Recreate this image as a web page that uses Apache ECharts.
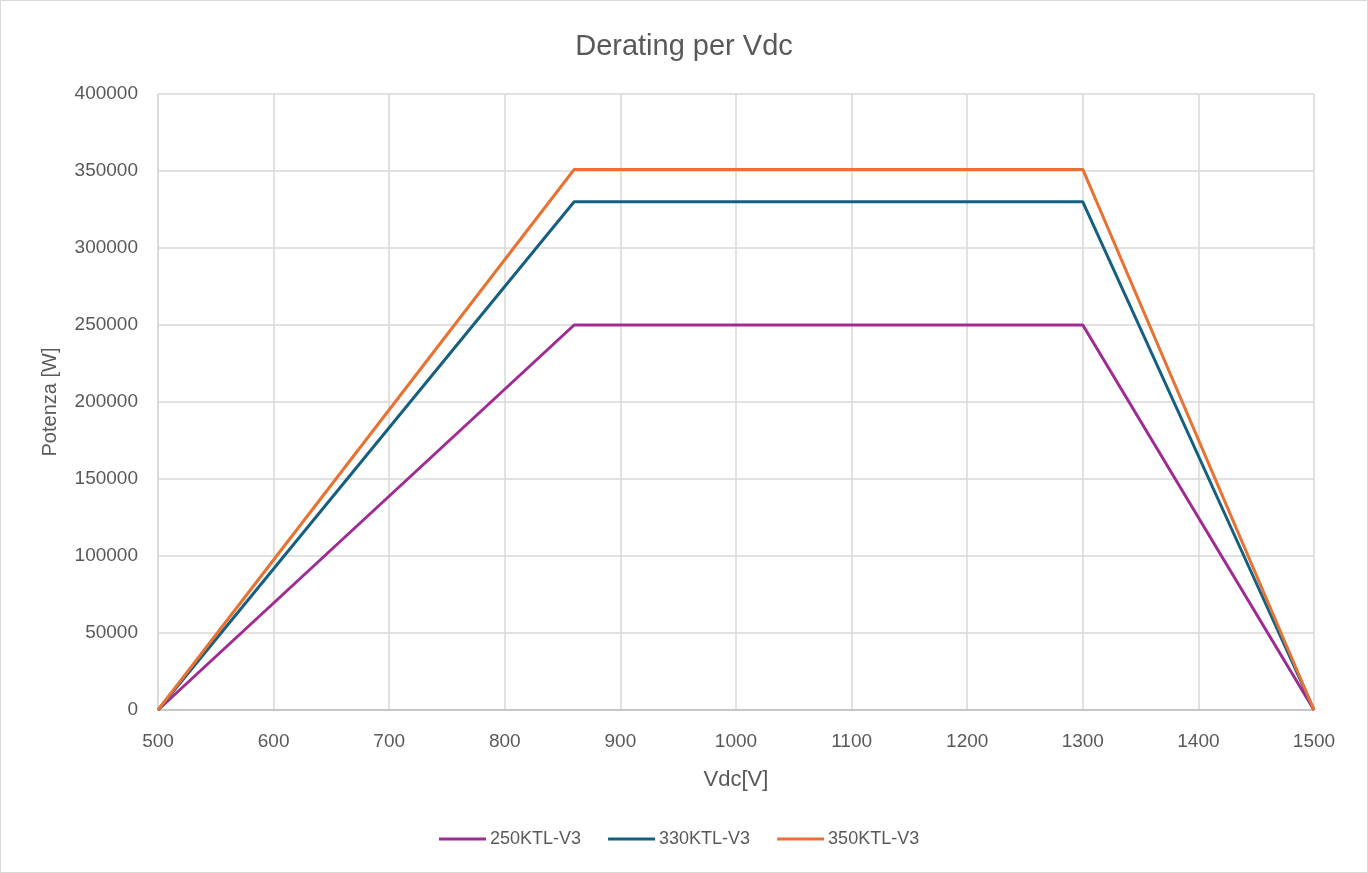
<!DOCTYPE html>
<html><head><meta charset="utf-8">
<script src="https://cdn.jsdelivr.net/npm/echarts@6/dist/echarts.min.js"></script>
<style>html,body{margin:0;padding:0;background:#fff}#c{width:1368px;height:873px;box-sizing:border-box;border:1px solid #d9d9d9}</style>
</head><body><div id="c"></div>
<script>
const vdc = [500, 860, 1300, 1500];
const s250 = [0, 250000, 250000, 0];
const s330 = [0, 330000, 330000, 0];
const s350 = [0, 351000, 351000, 0];
const seriesNames = ['250KTL-V3', '330KTL-V3', '350KTL-V3'];
const colors = ['#A02B93', '#156082', '#E97132'];
const values = [s250, s330, s350];
const chart = echarts.init(document.getElementById('c'), null, {renderer: 'canvas'});
const font = '"Liberation Sans", Arial, sans-serif';
chart.setOption({
  animation: false,
  textStyle: {fontFamily: font},
  title: {text: 'Derating per Vdc', left: 'center', top: 26, textStyle: {fontSize: 29, fontWeight: 'normal', color: '#595959', fontFamily: font}},
  grid: {left: 157, right: 53, top: 93, bottom: 162},
  legend: {bottom: 19, left: 433, itemWidth: 47, itemHeight: 3, itemGap: 27, icon: 'rect',
    textStyle: {fontSize: 18, color: '#595959', fontFamily: font, padding: [0, 0, 0, -1]},
    data: seriesNames},
  xAxis: {type: 'value', min: 500, max: 1500, interval: 100,
    name: 'Vdc[V]', nameLocation: 'middle', nameGap: 59, nameTextStyle: {fontSize: 22, color: '#595959'},
    axisLine: {lineStyle: {color: '#bfbfbf', width: 1.5}}, axisTick: {show: false},
    axisLabel: {fontSize: 19, color: '#595959', margin: 22, formatter: v => String(v)},
    splitLine: {show: true, lineStyle: {color: '#d9d9d9', width: 1.5}}},
  yAxis: {type: 'value', min: 0, max: 400000, interval: 50000,
    name: 'Potenza [W]', nameLocation: 'middle', nameGap: 98, nameTextStyle: {fontSize: 20, color: '#595959'},
    axisLine: {show: true, lineStyle: {color: '#d9d9d9', width: 1.5}}, axisTick: {show: false},
    axisLabel: {fontSize: 19, color: '#595959', margin: 20, formatter: v => String(v)},
    splitLine: {show: true, lineStyle: {color: '#d9d9d9', width: 1.5}}},
  series: seriesNames.map((n, i) => ({
    name: n, type: 'line', showSymbol: false, symbol: 'none',
    data: vdc.map((x, j) => [x, values[i][j]]),
    lineStyle: {color: colors[i], width: 3}, itemStyle: {color: colors[i]}
  }))
});
</script></body></html>
